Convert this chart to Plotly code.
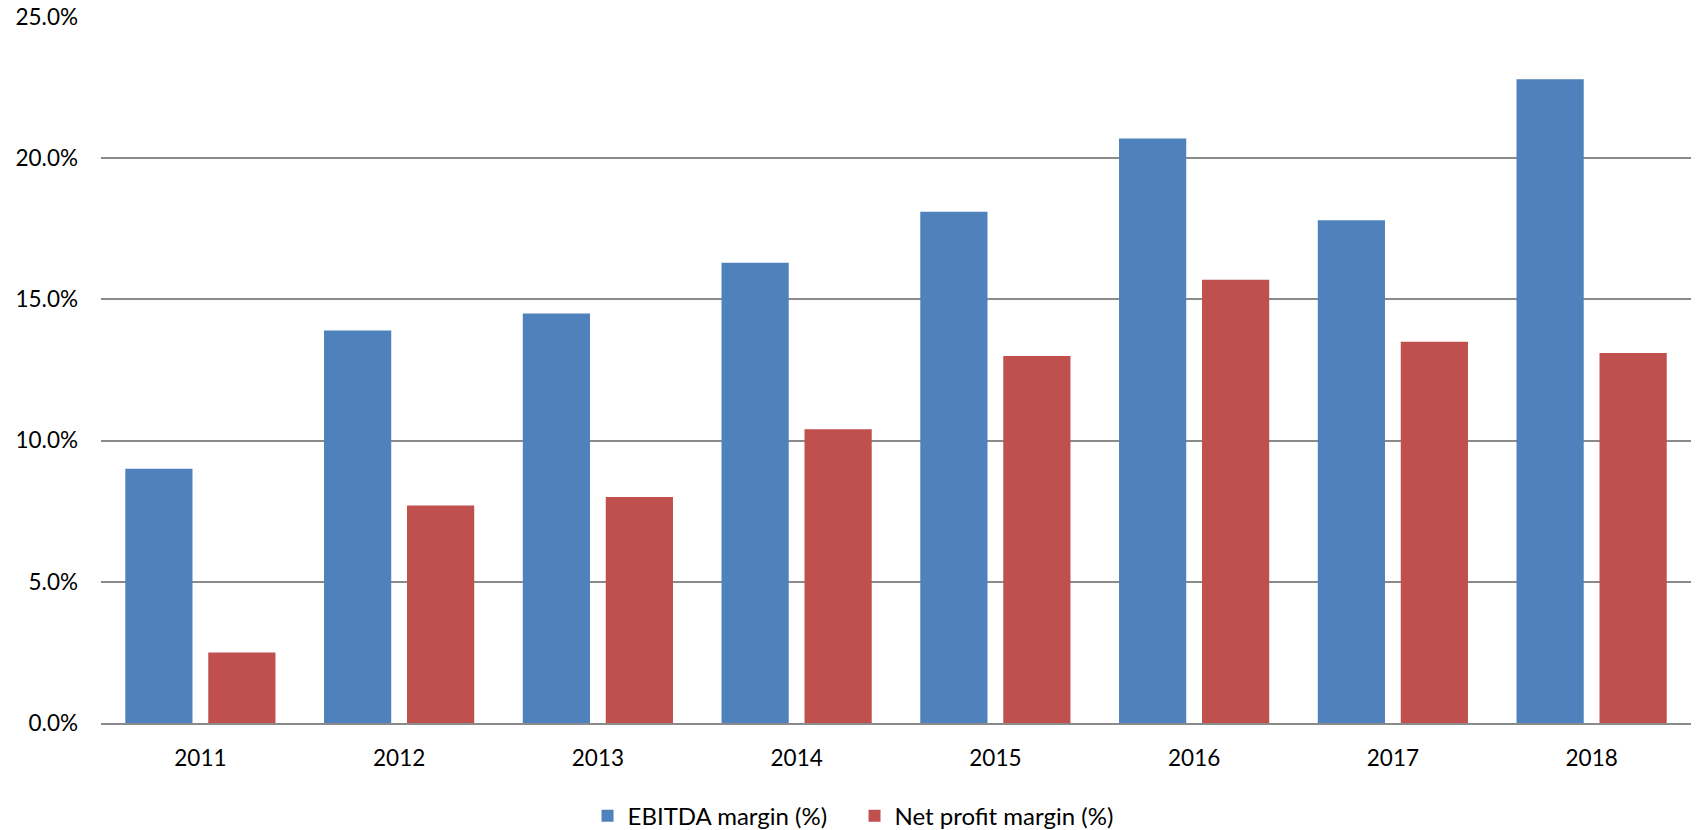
import plotly.graph_objects as go

# Annual margins, in percent
years = ["2011", "2012", "2013", "2014", "2015", "2016", "2017", "2018"]
ebitda_margin = [9.0, 13.9, 14.5, 16.3, 18.1, 20.7, 17.8, 22.8]
net_profit_margin = [2.5, 7.7, 8.0, 10.4, 13.0, 15.7, 13.5, 13.1]

FONT = "Lato, Carlito, Calibri, sans-serif"
GRID = "#8a8a8a"

fig = go.Figure()
fig.add_trace(go.Bar(
    x=years, y=ebitda_margin, name="EBITDA margin (%)",
    marker=dict(color="#4F81BD", line=dict(width=0)),
))
fig.add_trace(go.Bar(
    x=years, y=net_profit_margin, name="Net profit margin (%)",
    marker=dict(color="#C0504D", line=dict(width=0)),
))

fig.update_layout(
    width=1700, height=830,
    margin=dict(l=101, r=9, t=17, b=107, autoexpand=False),
    paper_bgcolor="white", plot_bgcolor="white",
    barmode="group", bargap=0.165, bargroupgap=0.19,
    font=dict(family=FONT, size=22, color="#000000"),
    showlegend=True,
    legend=dict(
        orientation="h", x=0.306, xanchor="left", y=-0.132, yanchor="middle",
        font=dict(family=FONT, size=24), itemwidth=30, traceorder="normal",
        entrywidth=222, entrywidthmode="pixels",
    ),
    xaxis=dict(
        showgrid=False, showline=True, linecolor=GRID, linewidth=2,
        ticks="", ticklabelstandoff=14, tickfont=dict(size=22.5), automargin=False,
    ),
    yaxis=dict(
        range=[0, 25], dtick=5, tickformat=".1f", ticksuffix="%",
        showgrid=True, gridcolor=GRID, gridwidth=1.5,
        zeroline=False, showline=False, ticks="",
        ticklabelstandoff=22, tickfont=dict(size=22.5), automargin=False,
    ),
)

fig.write_html("out.html")
